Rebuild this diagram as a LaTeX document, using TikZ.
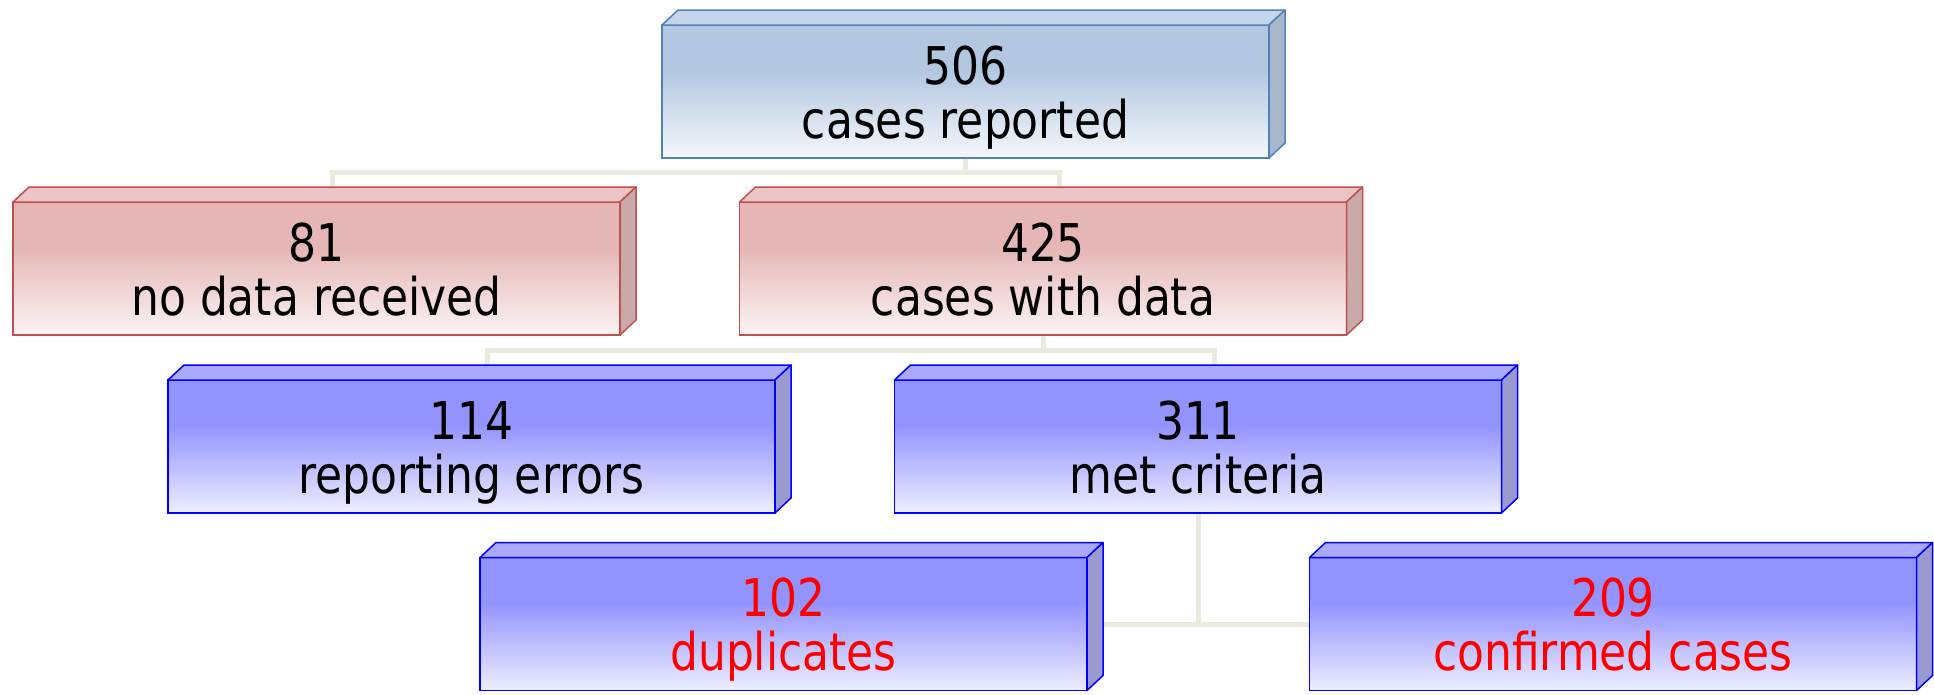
\documentclass[tikz,border=0pt]{standalone}
\usepackage{fontspec}
\setmainfont{DejaVu Sans Condensed}[FakeStretch=0.94]
\usetikzlibrary{calc}
\pgfdeclarelayer{background}
\pgfsetlayers{background,main}
% palettes: A = top light blue, R = red, B = strong blue
\definecolor{Afr}{HTML}{B3C7E1}\definecolor{Abot}{HTML}{F4F7FB}\definecolor{AT}{HTML}{C6D6EA}\definecolor{AS}{HTML}{A8B8CC}\definecolor{AB}{HTML}{4F81BD}
\definecolor{Rfr}{HTML}{E6B6B6}\definecolor{Rbot}{HTML}{FBF4F4}\definecolor{RT}{HTML}{EBC5C5}\definecolor{RS}{HTML}{C9A9A9}\definecolor{RB}{HTML}{C0504D}
\definecolor{Bfr}{HTML}{9393FF}\definecolor{Bbot}{HTML}{EEEEFF}\definecolor{BT}{HTML}{A9A9FF}\definecolor{BS}{HTML}{9A9AD0}\definecolor{BB}{HTML}{0000FF}
\definecolor{conncol}{HTML}{ECE9DE}
\pgfdeclareverticalshading{Ashade}{100bp}{color(0bp)=(Abot); color(25bp)=(Abot); color(58bp)=(Afr); color(100bp)=(Afr)}
\pgfdeclareverticalshading{Rshade}{100bp}{color(0bp)=(Rbot); color(25bp)=(Rbot); color(58bp)=(Rfr); color(100bp)=(Rfr)}
\pgfdeclareverticalshading{Bshade}{100bp}{color(0bp)=(Bbot); color(25bp)=(Bbot); color(58bp)=(Bfr); color(100bp)=(Bfr)}
\tikzset{
  box/.style={rectangle, minimum width=607pt, minimum height=133pt, inner sep=0pt, outer sep=0pt,
    line width=1.5pt},
  boxtext/.style={anchor=base, inner sep=0pt, font=\fontsize{52}{54}\selectfont},
  conn/.style={draw=conncol, line width=5pt},
  face/.style={line width=1.5pt, line join=round}
}
\newcommand\tdbox[7]{%
  \node[box, draw=#4B, shading=#4shade] (#1) at (#2,#3) {};
  \filldraw[face, draw=#4B, fill=#4T] (#1.north west) -- ++(16,-15) -- ([shift={(16,-15)}]#1.north east) -- (#1.north east) -- cycle;
  \filldraw[face, draw=#4B, fill=#4S] (#1.north east) -- ++(16,-15) -- ([shift={(16,-15)}]#1.south east) -- (#1.south east) -- cycle;
  \node[boxtext, text=#5] (#1-l1) at ([yshift=7.5pt]#1.center) {#6};
  \node[boxtext, text=#5] (#1-l2) at ([yshift=-46.5pt]#1.center) {#7};
  \coordinate (#1-back) at ([shift={(16,-15)}]#1.north);
}
\begin{document}
\begin{tikzpicture}[x=1pt,y=-1pt]
\useasboundingbox (0,0) rectangle (1934,694);
\tdbox{top}{965.5}{91.5}{A}{black}{506}{cases reported}
\tdbox{red1}{316.5}{268.5}{R}{black}{81}{no data received}
\tdbox{red2}{1043}{268.5}{R}{black}{425}{cases with data}
\tdbox{blue1}{471.5}{446.5}{B}{black}{114}{reporting errors}
\tdbox{blue2}{1198}{446.5}{B}{black}{311}{met criteria}
\tdbox{blue3}{783.5}{624}{B}{red}{102}{duplicates}
\tdbox{blue4}{1613}{624}{B}{red}{209}{confirmed cases}
\begin{pgfonlayer}{background}
  \coordinate (j1) at ($(top.south)+(0,14)$);
  \draw[conn] (top.south) -- (j1);
  \draw[conn] (red1-back) |- (j1) -| (red2-back);
  \coordinate (j2) at ($(red2.south)+(0,15)$);
  \draw[conn] (red2.south) -- (j2);
  \draw[conn] (blue1-back) |- (j2) -| (blue2-back);
  \coordinate (j3) at (blue2.south |- blue3.east);
  \draw[conn] (blue2.south) -- (j3);
  \draw[conn] (blue3.east) -- (j3) -- (blue4.west);
\end{pgfonlayer}
\end{tikzpicture}
\end{document}
